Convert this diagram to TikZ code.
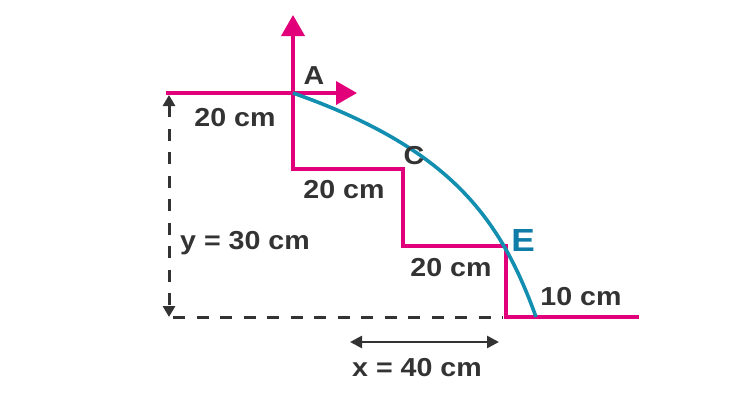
\documentclass[tikz,border=0pt]{standalone}
\usepackage{fontspec}
\setmainfont{Liberation Sans}[FakeStretch=1.1]
\usetikzlibrary{arrows.meta}
\definecolor{mag}{RGB}{226,0,122}
\definecolor{arc}{RGB}{18,142,176}
\definecolor{eblue}{RGB}{16,124,168}
\definecolor{txt}{RGB}{51,51,51}
\tikzset{
  magline/.style={draw=mag, line width=3.8pt},
  magarrow/.style={magline, -{Triangle[length=21pt,width=23pt]}},
  dimdash/.style={draw=txt, line width=3pt, dash pattern=on 12pt off 11.5pt},
  dimarrow/.style={draw=txt, line width=2.6pt, {Triangle[length=12pt,width=12pt]}-{Triangle[length=12pt,width=12pt]}},
  lbl/.style={text=txt, font=\fontsize{26}{30}\selectfont\bfseries, inner sep=0pt},
}
\begin{document}
\begin{tikzpicture}[x=1pt,y=-1pt]
\useasboundingbox (0,0) rectangle (751,402);
% key points
\coordinate (L) at (166,93);
\coordinate (A) at (293,93);
\coordinate (Aup) at (293,15);
\coordinate (Ar) at (357,93);
\coordinate (s1) at (293,169);
\coordinate (s2) at (403,169);
\coordinate (s3) at (403,246);
\coordinate (s4) at (506,246);
\coordinate (s5) at (506,317);
\coordinate (s6) at (639,317);
\coordinate (vt) at (169,95);
\coordinate (vb) at (169,317);
\coordinate (hl) at (173,317);
\coordinate (hr) at (503,317);
\coordinate (xl) at (350,342);
\coordinate (xr) at (499,342);
\coordinate (G) at (536,317);
% magenta lines
\draw[magline] (L) -- (A);
\draw[magarrow] (A) -- (Aup);
\draw[magarrow] (A) -- (Ar);
\draw[magline, line join=miter] (A) -- (s1) -- (s2) -- (s3) -- (s4) -- (s5) -- (s6);
% dashed dimensions
\draw[dimdash] (hl) -- (hr);
\draw[dimdash, {Triangle[length=11pt,width=12pt]}-{Triangle[length=11pt,width=12pt]}] (vt) -- (vb);
\draw[dimarrow] (xl) -- (xr);
% trajectory
\draw[draw=arc, line width=3.6pt] (A) .. controls (449,148) and (500,217) .. (G);
% labels
\node[lbl] (la) at (314,76) {A};
\node[lbl] (lc) at (414,156) {C};
\node[lbl, text=eblue, font=\fontsize{32}{34}\selectfont\bfseries] (le) at (523,240) {E};
\node[lbl] (t1) at (235,118) {20 cm};
\node[lbl] (t2) at (344,190) {20 cm};
\node[lbl] (t3) at (451,268) {20 cm};
\node[lbl] (t4) at (581,297) {10 cm};
\node[lbl] (ty) at (245,243) {y = 30 cm};
\node[lbl] (tx) at (417,368) {x = 40 cm};
\end{tikzpicture}
\end{document}
